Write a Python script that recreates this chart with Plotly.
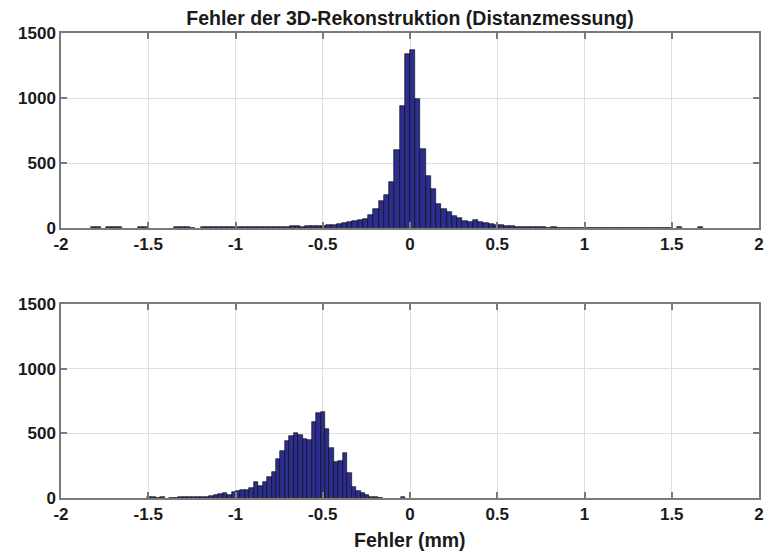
import plotly.graph_objects as go

# ---------------- data ----------------
# top histogram: bin centres (mm) and counts
top_centers = [-1.815, -1.785, -1.725, -1.695, -1.665, -1.545, -1.515,
               -1.335, -1.305, -1.275, -1.245, -1.185, -1.155, -1.125, -1.095,
               -1.065, -1.035, -1.005, -0.975, -0.945, -0.915, -0.885, -0.855,
               -0.825, -0.795, -0.765, -0.735, -0.705, -0.675, -0.645, -0.615,
               -0.585, -0.555, -0.525, -0.495, -0.465, -0.435, -0.405, -0.375,
               -0.345, -0.315, -0.285, -0.255, -0.225, -0.195, -0.165, -0.135,
               -0.105, -0.075, -0.045, -0.015, 0.015, 0.045, 0.075, 0.105,
               0.135, 0.165, 0.195, 0.225, 0.255, 0.285, 0.315, 0.345, 0.375,
               0.405, 0.435, 0.465, 0.495, 0.525, 0.555, 0.585, 0.615, 0.645,
               0.675, 0.705, 0.735, 0.765, 0.795, 0.825, 0.855, 0.885, 0.915,
               0.945, 0.975, 1.005, 1.035, 1.065, 1.095, 1.125, 1.155, 1.185,
               1.215, 1.245, 1.275, 1.305, 1.335, 1.365, 1.395, 1.425, 1.455,
               1.485, 1.545, 1.665]
top_counts = [8, 8, 6, 6, 6, 6, 6,
              5, 5, 5, 3, 5, 5, 5, 5,
              5, 5, 5, 6, 6, 6, 6, 6,
              6, 6, 6, 6, 6, 15, 13, 10,
              13, 15, 18, 18, 23, 26, 33, 38,
              46, 51, 59, 72, 97, 149, 205, 256,
              354, 597, 940, 1340, 1370, 995, 610, 400,
              297, 183, 150, 125, 96, 78, 56, 50, 58,
              46, 38, 30, 26, 20, 15, 12, 8, 6,
              5, 8, 8, 5, 4, 8, 3, 3, 3,
              2, 2, 2, 2, 2, 2, 4, 4, 3,
              3, 3, 3, 3, 3, 3, 3, 3, 3,
              3, 5, 6]

# bottom histogram: bin centres (mm) and counts
bottom_centers = [-1.4945, -1.469, -1.4435, -1.418, -1.367, -1.3415, -1.316,
                  -1.2905, -1.265, -1.2395, -1.214, -1.1885, -1.163, -1.1375,
                  -1.112, -1.0865, -1.061, -1.0355, -1.01, -0.9845, -0.959,
                  -0.9335, -0.908, -0.8825, -0.857, -0.8315, -0.806, -0.7805,
                  -0.755, -0.7295, -0.704, -0.6785, -0.653, -0.6275, -0.602,
                  -0.5765, -0.551, -0.5255, -0.5, -0.4745, -0.449, -0.4235,
                  -0.398, -0.3725, -0.347, -0.3215, -0.296, -0.2705, -0.245,
                  -0.2195, -0.194, -0.1685, -0.041]
bottom_counts = [4, 4, 3, 4, 3, 3, 4,
                 4, 5, 5, 5, 6, 10, 15,
                 20, 30, 38, 23, 48, 55, 60,
                 65, 80, 120, 95, 120, 165, 200,
                 300, 365, 440, 480, 505, 485, 455,
                 450, 590, 660, 665, 535, 385, 280,
                 285, 350, 197, 82, 56, 36, 23,
                 10, 5, 3, 6]

x_tickvals = [-2, -1.5, -1, -0.5, 0, 0.5, 1, 1.5, 2]
x_ticktext = ["-2", "-1.5", "-1", "-0.5", "0", "0.5", "1", "1.5", "2"]
y_tickvals = [0, 500, 1000, 1500]
y_ticktext = ["0", "500", "1000", "1500"]

title_text = "Fehler der 3D-Rekonstruktion (Distanzmessung)"
xlabel_text = "Fehler (mm)"

# ---------------- style ----------------
BAR_COLOR = "#2c2e8f"
FONT = "Liberation Sans, Arial, sans-serif"
tickfont = dict(family=FONT, size=17, color="#1a1a1a", weight="bold")

fig = go.Figure()
fig.add_trace(go.Bar(x=top_centers, y=top_counts, width=0.03,
                     marker=dict(color=BAR_COLOR, line=dict(color="#000000", width=0.6)),
                     xaxis="x", yaxis="y", showlegend=False))
fig.add_trace(go.Bar(x=bottom_centers, y=bottom_counts, width=0.0255,
                     marker=dict(color=BAR_COLOR, line=dict(color="#000000", width=0.6)),
                     xaxis="x2", yaxis="y2", showlegend=False))

axis_common = dict(showline=True, linecolor="#7a7a7a", linewidth=1.5, mirror="ticks",
                   ticks="inside", ticklen=6, tickwidth=1.5, tickcolor="#7a7a7a",
                   showgrid=True, gridcolor="#dedede", gridwidth=1, zeroline=False,
                   tickfont=tickfont, automargin=False)

fig.update_layout(
    width=770, height=554,
    margin=dict(l=61, r=11, t=33, b=56),
    plot_bgcolor="white", paper_bgcolor="white",
    bargap=0,
    title=dict(text="<b>" + title_text + "</b>", x=0.5, xref="paper",
               y=1 - 18 / 554, yref="container", yanchor="middle", xanchor="center",
               font=dict(family=FONT, size=19.5, color="#1a1a1a")),
    xaxis=dict(domain=[0, 1], anchor="y", range=[-2, 2], tickvals=x_tickvals,
               ticktext=x_ticktext, **axis_common),
    yaxis=dict(domain=[0.5806, 1], anchor="x", range=[0, 1500], tickvals=y_tickvals,
               ticktext=y_ticktext, **axis_common),
    xaxis2=dict(domain=[0, 1], anchor="y2", range=[-2, 2], tickvals=x_tickvals,
                ticktext=x_ticktext, **axis_common),
    yaxis2=dict(domain=[0, 0.4172], anchor="x2", range=[0, 1500], tickvals=y_tickvals,
                ticktext=y_ticktext, **axis_common),
    annotations=[dict(text="<b>" + xlabel_text + "</b>", xref="paper", yref="paper",
                      x=0.5, y=-(540 - 498) / 465, xanchor="center", yanchor="middle",
                      showarrow=False, font=dict(family=FONT, size=19.5, color="#1a1a1a"))],
)

fig.write_html("out.html", config={"displayModeBar": False},
               post_script="document.body.style.margin='0';document.body.style.padding='0';"
                           "document.body.style.overflow='hidden';")
